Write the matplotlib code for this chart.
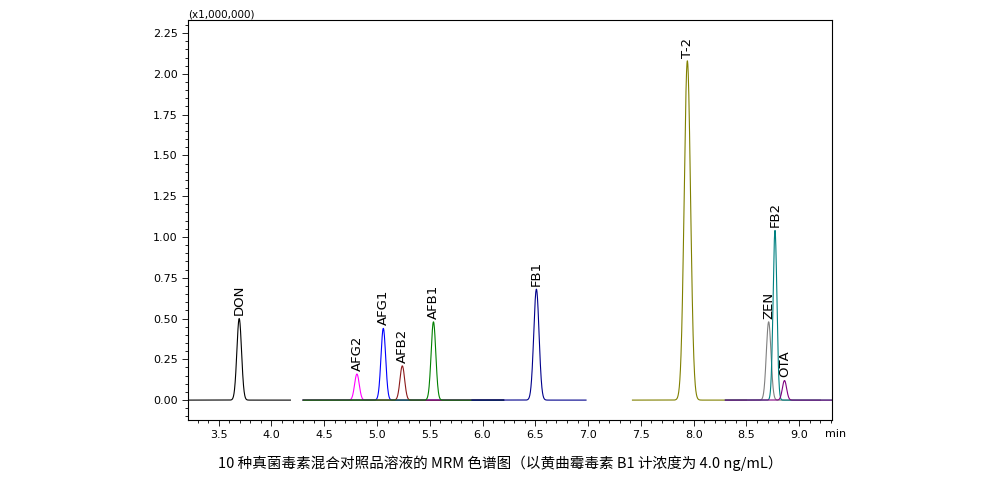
import numpy as np
import matplotlib
matplotlib.use("Agg")
import matplotlib.pyplot as plt
from matplotlib.ticker import MultipleLocator

names = ["DON", "AFG2", "AFG1", "AFB2", "AFB1", "FB1", "T-2", "ZEN", "FB2", "OTA"]
rt = [3.695, 4.81, 5.06, 5.24, 5.535, 6.51, 7.94, 8.71, 8.77, 8.86]
height = [0.50, 0.16, 0.44, 0.21, 0.48, 0.68, 2.08, 0.48, 1.04, 0.12]
sigma = [0.022, 0.022, 0.022, 0.022, 0.022, 0.025, 0.030, 0.022, 0.018, 0.020]
start = [3.21, 4.30, 4.30, 4.30, 4.30, 5.90, 7.42, 8.30, 8.30, 8.30]
end = [4.18, 6.20, 6.20, 6.20, 6.20, 6.98, 8.50, 9.20, 9.31, 9.31]
colors = ["#000000", "#ff00ff", "#0000ff", "#8b1a1a", "#008000", "#00008b",
          "#808000", "#808080", "#008080", "#800080"]

plt.rcParams['font.family'] = ['DejaVu Sans']
fig = plt.figure(figsize=(10.01, 4.86), dpi=100)
ax = fig.add_axes([188/1001, 1-420/486, (832-188)/1001, 400/486])
for n, r, h, s, a, b, c in zip(names, rt, height, sigma, start, end, colors):
    x = np.linspace(a, b, 800)
    y = h*np.exp(-0.5*((x-r)/s)**2)
    ax.plot(x, y, color=c, lw=0.8)
    ax.text(r, h+0.02, n, rotation=90, ha='center', va='bottom', fontsize=9.5)
ax.set_xlim(3.21, 9.31)
ax.set_ylim(-0.122, 2.33)
ax.xaxis.set_minor_locator(MultipleLocator(0.1))
ax.yaxis.set_minor_locator(MultipleLocator(0.05))
ax.set_xticks(np.arange(3.5, 9.01, 0.5))
ax.set_xticklabels([f"{v:.1f}" for v in np.arange(3.5, 9.01, 0.5)])
ax.set_yticks(np.arange(0, 2.26, 0.25))
ax.set_yticklabels([f"{v:.2f}" for v in np.arange(0, 2.26, 0.25)])
ax.tick_params(labelsize=8, length=4, width=0.6)
ax.tick_params(which='minor', length=2.5, width=0.6)
for sp in ax.spines.values():
    sp.set_linewidth(0.8)
ax.text(9.24, -0.205, "min", fontsize=8, ha='left', va='center')
ax.text(3.21, 2.33, "(x1,000,000)", fontsize=7.5, ha='left', va='bottom')
fig.text(0.5, 1-463/486, "10 种真菌毒素混合对照品溶液的 MRM 色谱图（以黄曲霉毒素 B1 计浓度为 4.0 ng/mL）",
         ha='center', va='center', fontsize=10.5, family=['Noto Sans CJK SC', 'DejaVu Sans'])
fig.savefig("out.png", dpi=100)
